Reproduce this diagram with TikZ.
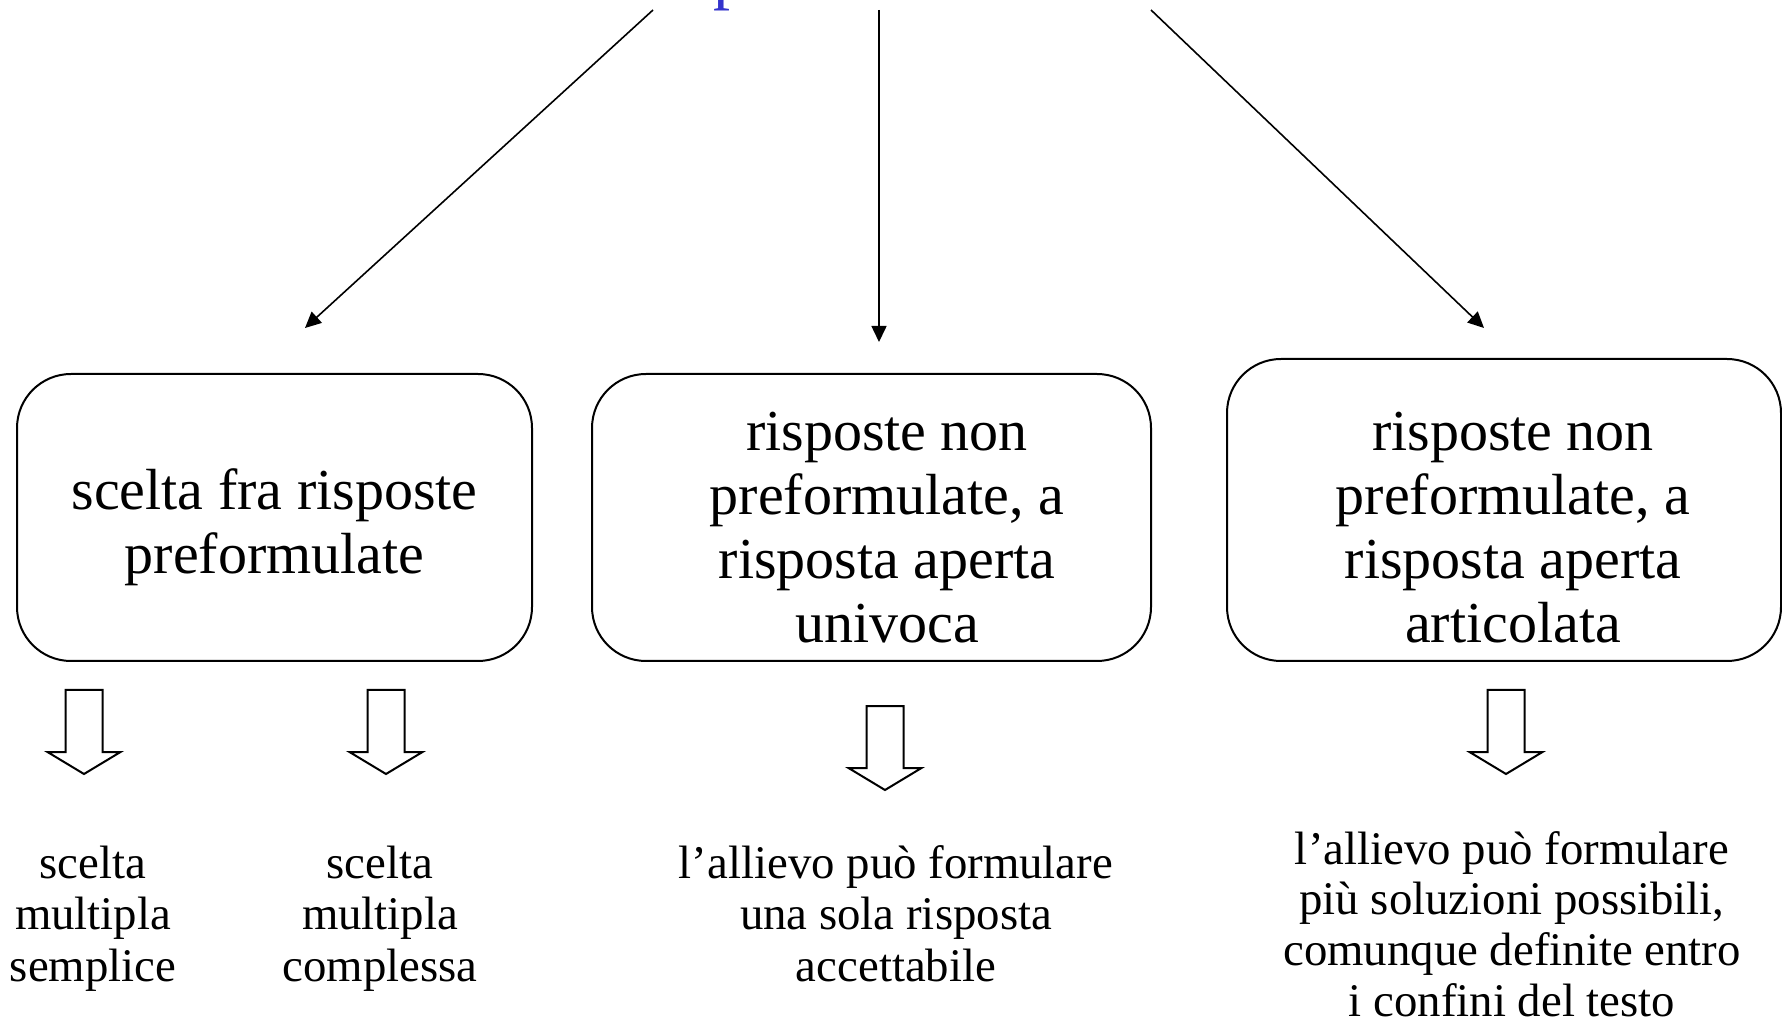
\documentclass[tikz,border=0pt]{standalone}
\usepackage{fontspec}
\setmainfont{Liberation Serif}
\usetikzlibrary{arrows.meta}
\definecolor{titleblue}{RGB}{51,51,204}
\newcommand{\mlines}[1]{\vtop{\halign{\hfil##\hfil\cr #1\crcr}}}
\tikzset{
  catbox/.style={draw, line width=1pt, rounded corners=27pt, inner sep=0pt},
  boxtext/.style={anchor=base, inner sep=0pt, font=\fontsize{29}{32}\selectfont},
  subtext/.style={anchor=base, inner sep=0pt, font=\fontsize{23.4}{25.75}\selectfont},
  link/.style={line width=0.8pt, -{Triangle[length=8pt,width=7.5pt]}},
  blockarrow/.pic={\draw[line width=1pt, line join=miter]
    (-18.5,0) -- (18.5,0) -- (18.5,62) -- (36.5,62) -- (0,84) -- (-36.5,62) -- (-18.5,62) -- cycle;}
}
\begin{document}
\begin{tikzpicture}[x=0.5pt,y=-0.5pt]
\useasboundingbox (0,0) rectangle (1782,1020);
\clip (0,0) rectangle (1782,1020);

% cut-off title
\node[anchor=south west, inner sep=0pt, text=titleblue, font=\fontsize{34}{40}\selectfont] (title) at (713,11.5) {p};

% free ends of the top connectors
\coordinate (s1) at (653,10);
\coordinate (e1) at (305,328);
\coordinate (s2) at (879,10);
\coordinate (e2) at (879,342);
\coordinate (s3) at (1151,10);
\coordinate (e3) at (1484,328);
\draw[link] (s1) -- (e1);
\draw[link] (s2) -- (e2);
\draw[link] (s3) -- (e3);

% category boxes
\node[catbox, minimum width=257.5pt, minimum height=143.5pt] (b1) at (274.5,517.5) {};
\node[catbox, minimum width=279.5pt, minimum height=143.5pt] (b2) at (871.5,517.5) {};
\node[catbox, minimum width=277pt, minimum height=151pt] (b3) at (1504,510) {};

\node[boxtext] (t1) at (274.5,509.5) {\mlines{scelta fra risposte\cr preformulate}};
\node[boxtext] (t2) at (887,450.5) {\mlines{risposte non\cr preformulate, a\cr risposta aperta\cr univoca}};
\node[boxtext] (t3) at (1513,450.5) {\mlines{risposte non\cr preformulate, a\cr risposta aperta\cr articolata}};

% block arrows
\pic (a1) at (84,690) {blockarrow};
\pic (a2) at (386,690) {blockarrow};
\pic (a3) at (885,706) {blockarrow};
\pic (a4) at (1506,690) {blockarrow};

% descriptions
\node[subtext] (d1) at (93,878) {\mlines{scelta\cr multipla\cr semplice}};
\node[subtext] (d2) at (380,878) {\mlines{scelta\cr multipla\cr complessa}};
\node[subtext] (d3) at (896,878) {\mlines{l’allievo può formulare\cr una sola risposta\cr accettabile}};
\node[subtext, font=\fontsize{23.4}{25.4}\selectfont] (d4) at (1512,864) {\mlines{l’allievo può formulare\cr più soluzioni possibili,\cr comunque definite entro\cr i confini del testo}};
\end{tikzpicture}
\end{document}
